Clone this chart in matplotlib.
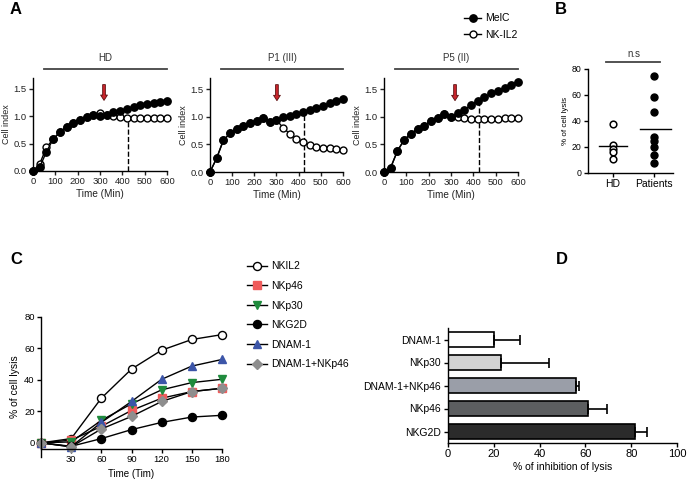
import matplotlib.pyplot as plt
import numpy as np

plt.rcParams['font.family'] = ['Liberation Sans', 'DejaVu Sans']
plt.rcParams['font.size'] = 7
plt.rcParams['axes.linewidth'] = 1.0
plt.rcParams['xtick.major.width'] = 1.0
plt.rcParams['ytick.major.width'] = 1.0
plt.rcParams['xtick.major.size'] = 3
plt.rcParams['ytick.major.size'] = 3

# ---- panel A data (cell index, every 30 min)
time_a = np.arange(0, 601, 30)
hd_melc = [0, 0.07, 0.35, 0.58, 0.71, 0.81, 0.88, 0.94, 0.99, 1.02, 1.01, 1.03, 1.07,
           1.10, 1.13, 1.17, 1.20, 1.22, 1.24, 1.26, 1.28]
hd_nk = [0, 0.13, 0.43, 0.58, 0.71, 0.81, 0.88, 0.94, 0.99, 1.02, 1.06, 1.02, 1.00,
         0.98, 0.97, 0.96, 0.96, 0.96, 0.96, 0.96, 0.97]
p1_melc = [0, 0.25, 0.57, 0.70, 0.77, 0.83, 0.88, 0.93, 0.97, 0.91, 0.94, 0.99, 1.01,
           1.04, 1.08, 1.12, 1.16, 1.20, 1.24, 1.28, 1.32]
p1_nk = [0, 0.25, 0.57, 0.70, 0.77, 0.83, 0.88, 0.93, 0.97, 0.91, 0.94, 0.80, 0.69,
         0.60, 0.54, 0.49, 0.46, 0.44, 0.43, 0.41, 0.39]
p5_melc = [0, 0.08, 0.38, 0.58, 0.69, 0.78, 0.84, 0.92, 0.98, 1.04, 0.99, 1.07, 1.13,
           1.21, 1.29, 1.35, 1.42, 1.47, 1.52, 1.58, 1.63]
p5_nk = [0, 0.08, 0.38, 0.58, 0.69, 0.78, 0.84, 0.92, 0.98, 1.04, 0.99, 1.00, 0.97,
         0.96, 0.95, 0.95, 0.96, 0.96, 0.97, 0.97, 0.98]
a_titles = ['HD', 'P1 (III)', 'P5 (II)']
arrow_time = [318, 302, 318]
dash_time = 425
dash_top = [0.95, 1.09, 1.28]

# ---- panel B data (% of cell lysis)
lysis_hd = [37.9, 21.3, 18.7, 15.9, 10.8]
lysis_patients = [74.4, 58.5, 46.7, 27.4, 24.4, 19.7, 14.1, 7.7]

# ---- panel C data
time_c = [0, 30, 60, 90, 120, 150, 180]
nkil2 = [0, 2.7, 28.4, 46.9, 58.9, 65.7, 68.8]
nkp46 = [0, 1.7, 10.5, 20.6, 28.4, 32.6, 34.7]
nkp30 = [0, 0.6, 14.3, 24.8, 33.7, 38.3, 40.4]
nkg2d = [0, -2.2, 2.7, 8.4, 13.0, 16.4, 17.5]
dnam1 = [0, -2.5, 13.0, 26.3, 40.4, 48.8, 53.0]
dnam1_nkp46 = [0, -2.5, 8.8, 16.8, 26.3, 32.6, 34.7]

# ---- panel D data
d_labels = ['NKG2D', 'NKp46', 'DNAM-1+NKp46', 'NKp30', 'DNAM-1']
d_values = [81.5, 61, 56, 23, 20]
d_err = [5.5, 8.5, 1, 21, 11.5]
d_colors = ['#2b2b2b', '#5c5e60', '#9a9ea8', '#d2d2d2', '#ffffff']

fig = plt.figure(figsize=(6.89, 4.8), dpi=100)

def px(l, t, r, b):
    return [l / 689, 1 - b / 480, (r - l) / 689, (b - t) / 480]

# ---------------- panel A
a_boxes = [(33, 78, 167, 171), (210, 78, 343, 172), (384, 78, 518, 172)]
a_data = [(hd_melc, hd_nk), (p1_melc, p1_nk), (p5_melc, p5_nk)]
for i, box in enumerate(a_boxes):
    ax = fig.add_axes(px(*box))
    melc, nk = a_data[i]
    l2, = ax.plot(time_a, nk, '-o', color='black', mfc='white', mec='black',
                  ms=5.0, mew=1.0, lw=1.0, clip_on=False, zorder=3)
    l1, = ax.plot(time_a, melc, '-o', color='black', mfc='black', ms=5.3,
                  lw=1.0, clip_on=False, zorder=4)
    ax.plot([0], [0], 'D', color='black', ms=4.2, clip_on=False, zorder=5)
    ax.plot([dash_time, dash_time], [0, dash_top[i]], '--', color='black', lw=1.0)
    ax.annotate('', xy=(arrow_time[i], 1.24), xytext=(arrow_time[i], 1.63),
                arrowprops=dict(arrowstyle='simple,head_width=0.7,head_length=0.55,tail_width=0.28',
                                fc='#c9252c', ec='#5a1010', lw=0.6))
    ax.plot([50, 600], [1.87, 1.87], color='#444444', lw=1.3, clip_on=False)
    ax.text(325, 1.97, a_titles[i], ha='center', va='bottom', fontsize=7, color='#333333')
    ax.set_xlim(0, 600)
    ax.set_ylim(0, 1.7)
    ax.set_xticks(range(0, 601, 100))
    ax.set_yticks([0, 0.5, 1.0, 1.5])
    ax.set_yticklabels(['0.0', '0.5', '1.0', '1.5'])
    ax.tick_params(labelsize=6.8, colors='#222222', pad=1.5)
    ax.spines['top'].set_visible(False)
    ax.spines['right'].set_visible(False)
    ax.set_xlabel('Time (Min)', fontsize=7.2, labelpad=2, color='#222222')
    ax.set_ylabel('Cell index', fontsize=6.5, labelpad=2, color='#222222')
    if i == 2:
        fig.legend([l1, l2], ['MelC', 'NK-IL2'], loc='upper left',
                   bbox_to_anchor=(455 / 689, 1 - 4 / 480), frameon=False,
                   fontsize=7.5, handlelength=1.6, handletextpad=0.4, labelspacing=0.65)

# ---------------- panel B
axb = fig.add_axes(px(588, 69, 673, 173))
axb.plot(np.zeros(len(lysis_hd)), lysis_hd, 'o', mfc='white', mec='black', ms=4.8, mew=1.1,
         clip_on=False)
axb.plot(np.ones(len(lysis_patients)), lysis_patients, 'o', color='black', ms=5.0, clip_on=False)
axb.plot([-0.35, 0.35], [np.mean(lysis_hd)] * 2, color='black', lw=1.0)
axb.plot([0.65, 1.4], [np.mean(lysis_patients)] * 2, color='black', lw=1.0)
axb.plot([-0.17, 1.14], [85.4, 85.4], color='#444444', lw=1.3, clip_on=False)
axb.text(0.5, 87.5, 'n.s', ha='center', va='bottom', fontsize=7, color='#333333')
axb.set_xlim(-0.61, 1.46)
axb.set_ylim(0, 80)
axb.set_xticks([0, 1])
axb.set_xticklabels(['HD', 'Patients'], fontsize=7.5)
axb.set_yticks([0, 20, 40, 60, 80])
axb.tick_params(axis='y', labelsize=6.3, pad=1.5)
axb.tick_params(axis='x', pad=1.5)
axb.spines['top'].set_visible(False)
axb.spines['right'].set_visible(False)
axb.set_ylabel('% of cell lysis', fontsize=5.8, labelpad=2)

# ---------------- panel C
axc = fig.add_axes(px(41, 317, 222, 457))
c_series = [
    ('NKIL2', nkil2, 'o', 'white', 'black'),
    ('NKp46', nkp46, 's', '#ef5b5b', '#ef5b5b'),
    ('NKp30', nkp30, 'v', '#1f8b3d', '#1f8b3d'),
    ('NKG2D', nkg2d, 'o', 'black', 'black'),
    ('DNAM-1', dnam1, '^', '#3c55a8', '#3c55a8'),
    ('DNAM-1+NKp46', dnam1_nkp46, 'D', '#8e8e8e', '#8e8e8e'),
]
handles = []
for name, vals, mk, fc, ec in c_series:
    ms = 4.8 if mk == 'D' else 5.8
    h, = axc.plot(time_c, vals, '-', marker=mk, color='black', mfc=fc, mec=ec,
                  ms=ms, mew=1.0, lw=1.0, clip_on=False)
    handles.append(h)
axc.set_xlim(0, 180)
axc.set_ylim(-9, 80)
axc.spines['bottom'].set_position(('data', -4))
axc.spines['top'].set_visible(False)
axc.spines['right'].set_visible(False)
axc.set_xticks([30, 60, 90, 120, 150, 180])
axc.set_yticks([0, 20, 40, 60, 80])
axc.tick_params(labelsize=6.8, pad=1.5)
axc.set_xlabel('Time (Tim)', fontsize=7, labelpad=3)
axc.set_ylabel('% of cell lysis', fontsize=7.5, labelpad=3)
fig.legend(handles, [s[0] for s in c_series], loc='upper left',
           bbox_to_anchor=(238 / 689, 1 - 252 / 480), frameon=False, fontsize=7.5,
           handlelength=1.9, handletextpad=0.4, labelspacing=0.92)

# ---------------- panel D
axd = fig.add_axes(px(448, 328, 677, 443))
ypos = np.arange(len(d_labels))
axd.barh(ypos, d_values, height=0.65, color=d_colors, edgecolor='black', lw=1.2)
axd.errorbar(d_values, ypos, xerr=[np.zeros(len(d_err)), d_err], fmt='none',
             ecolor='black', elinewidth=1.2, capsize=3.5, capthick=1.2)
axd.set_xlim(0, 100)
axd.set_ylim(-0.5, 4.5)
axd.set_yticks(ypos)
axd.set_yticklabels(d_labels, fontsize=7.5)
axd.set_xticks(range(0, 101, 20))
axd.tick_params(axis='x', labelsize=8, pad=1.5)
axd.tick_params(axis='y', pad=2)
axd.spines['top'].set_visible(False)
axd.spines['right'].set_visible(False)
axd.set_xlabel('% of inhibition of lysis', fontsize=7.5, labelpad=2)

# panel letters
for letter, x, y in [('A', 10, 10), ('B', 555, 10), ('C', 10, 260), ('D', 556, 260)]:
    fig.text(x / 689, 1 - y / 480, letter, fontsize=12, fontweight='bold', va='center')

fig.savefig('out.png', dpi=100)
